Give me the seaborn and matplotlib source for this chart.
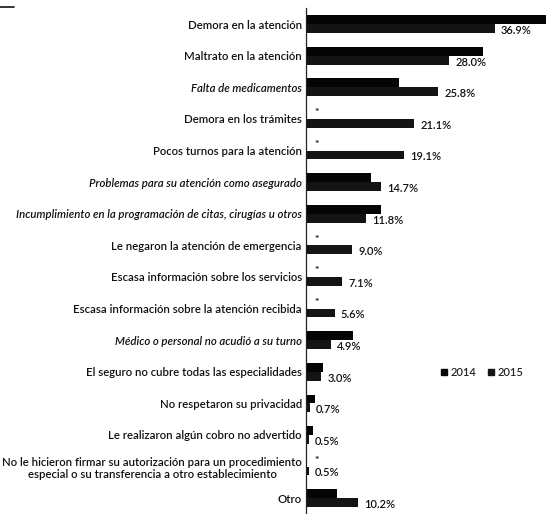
import numpy as np
import pandas as pd
import matplotlib
matplotlib.use("Agg")
import matplotlib.pyplot as plt
from matplotlib.lines import Line2D
import seaborn as sns

categories = [
    "Demora en la atención",
    "Maltrato en la atención",
    "Falta de medicamentos",
    "Demora en los trámites",
    "Pocos turnos para la atención",
    "Problemas para su atención como asegurado",
    "Incumplimiento en la programación de citas, cirugías u otros",
    "Le negaron la atención de emergencia",
    "Escasa información sobre los servicios",
    "Escasa información sobre la atención recibida",
    "Médico o personal no acudió a su turno",
    "El seguro no cubre todas las especialidades",
    "No respetaron su privacidad",
    "Le realizaron algún cobro no advertido",
    "No le hicieron firmar su autorización para un procedimiento\nespecial o su transferencia a otro establecimiento",
    "Otro",
]
italic_labels = {2, 5, 6, 10}

# None = category not surveyed that year (shown with an asterisk)
values_2014 = [48.5, 34.5, 18.2, None, None, 12.7, 14.7, None, None, None,
               9.2, 3.3, 1.8, 1.3, None, 6.1]
values_2015 = [36.9, 28.0, 25.8, 21.1, 19.1, 14.7, 11.8, 9.0, 7.1, 5.6,
               4.9, 3.0, 0.7, 0.5, 0.5, 10.2]
years = ["2014", "2015"]

rows = []
for cat, v14, v15 in zip(categories, values_2014, values_2015):
    if v14 is not None:
        rows.append({"Motivo": cat, "Año": years[0], "Porcentaje": v14})
    rows.append({"Motivo": cat, "Año": years[1], "Porcentaje": v15})
df = pd.DataFrame(rows)

sns.set_style("white")
plt.rcParams["font.family"] = ["Lato", "DejaVu Sans"]

fig = plt.figure(figsize=(5.46, 5.14), dpi=100)
ax = fig.add_axes([306 / 546, 0.0, 1 - 306 / 546, 1 - 8.3 / 514])

sns.barplot(data=df, y="Motivo", x="Porcentaje", hue="Año", order=categories,
            hue_order=years, palette=["#050505", "#141414"], width=0.56,
            orient="h", errorbar=None, saturation=1, legend=False, ax=ax,
            linewidth=0)

ax.set_xlim(0, (546 - 306) / 5.12)
ax.set_ylim(-0.5 + (514 - 8.3) / 32.2, -0.5)

# percentage labels for 2015
for i, v in enumerate(values_2015):
    ax.text(v + 1.2, i + 0.2, f"{v:.1f}%", va="center", ha="left",
            fontsize=8, fontweight="semibold", color="#111111")

# asterisk where 2014 has no data
for i, v in enumerate(values_2014):
    if v is None:
        ax.text(1.6, i - 0.2, "*", va="center", ha="left", fontsize=7.5,
                fontweight="bold", color="#111111")

for s in ["top", "right", "bottom"]:
    ax.spines[s].set_visible(False)
ax.spines["left"].set_color("#222222")
ax.spines["left"].set_linewidth(0.9)
ax.set_xticks([])
ax.set_xlabel("")
ax.set_ylabel("")
ax.set_yticks(range(len(categories)))
ax.set_yticklabels(categories)
ax.tick_params(axis="y", which="major", length=0, pad=3, labelsize=8.2,
               labelcolor="#111111")
ax.set_yticks(np.arange(-0.5, len(categories), 1.0), minor=True)
ax.tick_params(axis="y", which="minor", length=3, width=0.8, color="#222222",
               direction="out")
for i, lab in enumerate(ax.get_yticklabels()):
    lab.set_multialignment("center")
    lab.set_fontweight("semibold")
    if i in italic_labels:
        lab.set_fontstyle("italic")

handles = [Line2D([], [], marker="s", linestyle="", markersize=5,
                  color=c) for c in ["#050505", "#141414"]]
fig.legend(handles, years, loc="center", bbox_to_anchor=(482 / 546, 1 - 372 / 514),
           ncol=2, frameon=False, prop={"size": 8, "weight": "semibold"},
           handlelength=0.6, handletextpad=0.3, columnspacing=1.0)

fig.add_artist(Line2D([0, 14 / 546], [1 - 7 / 514, 1 - 7 / 514],
                      transform=fig.transFigure, color="#111111", lw=1.2))

fig.savefig("out.png", dpi=100)
